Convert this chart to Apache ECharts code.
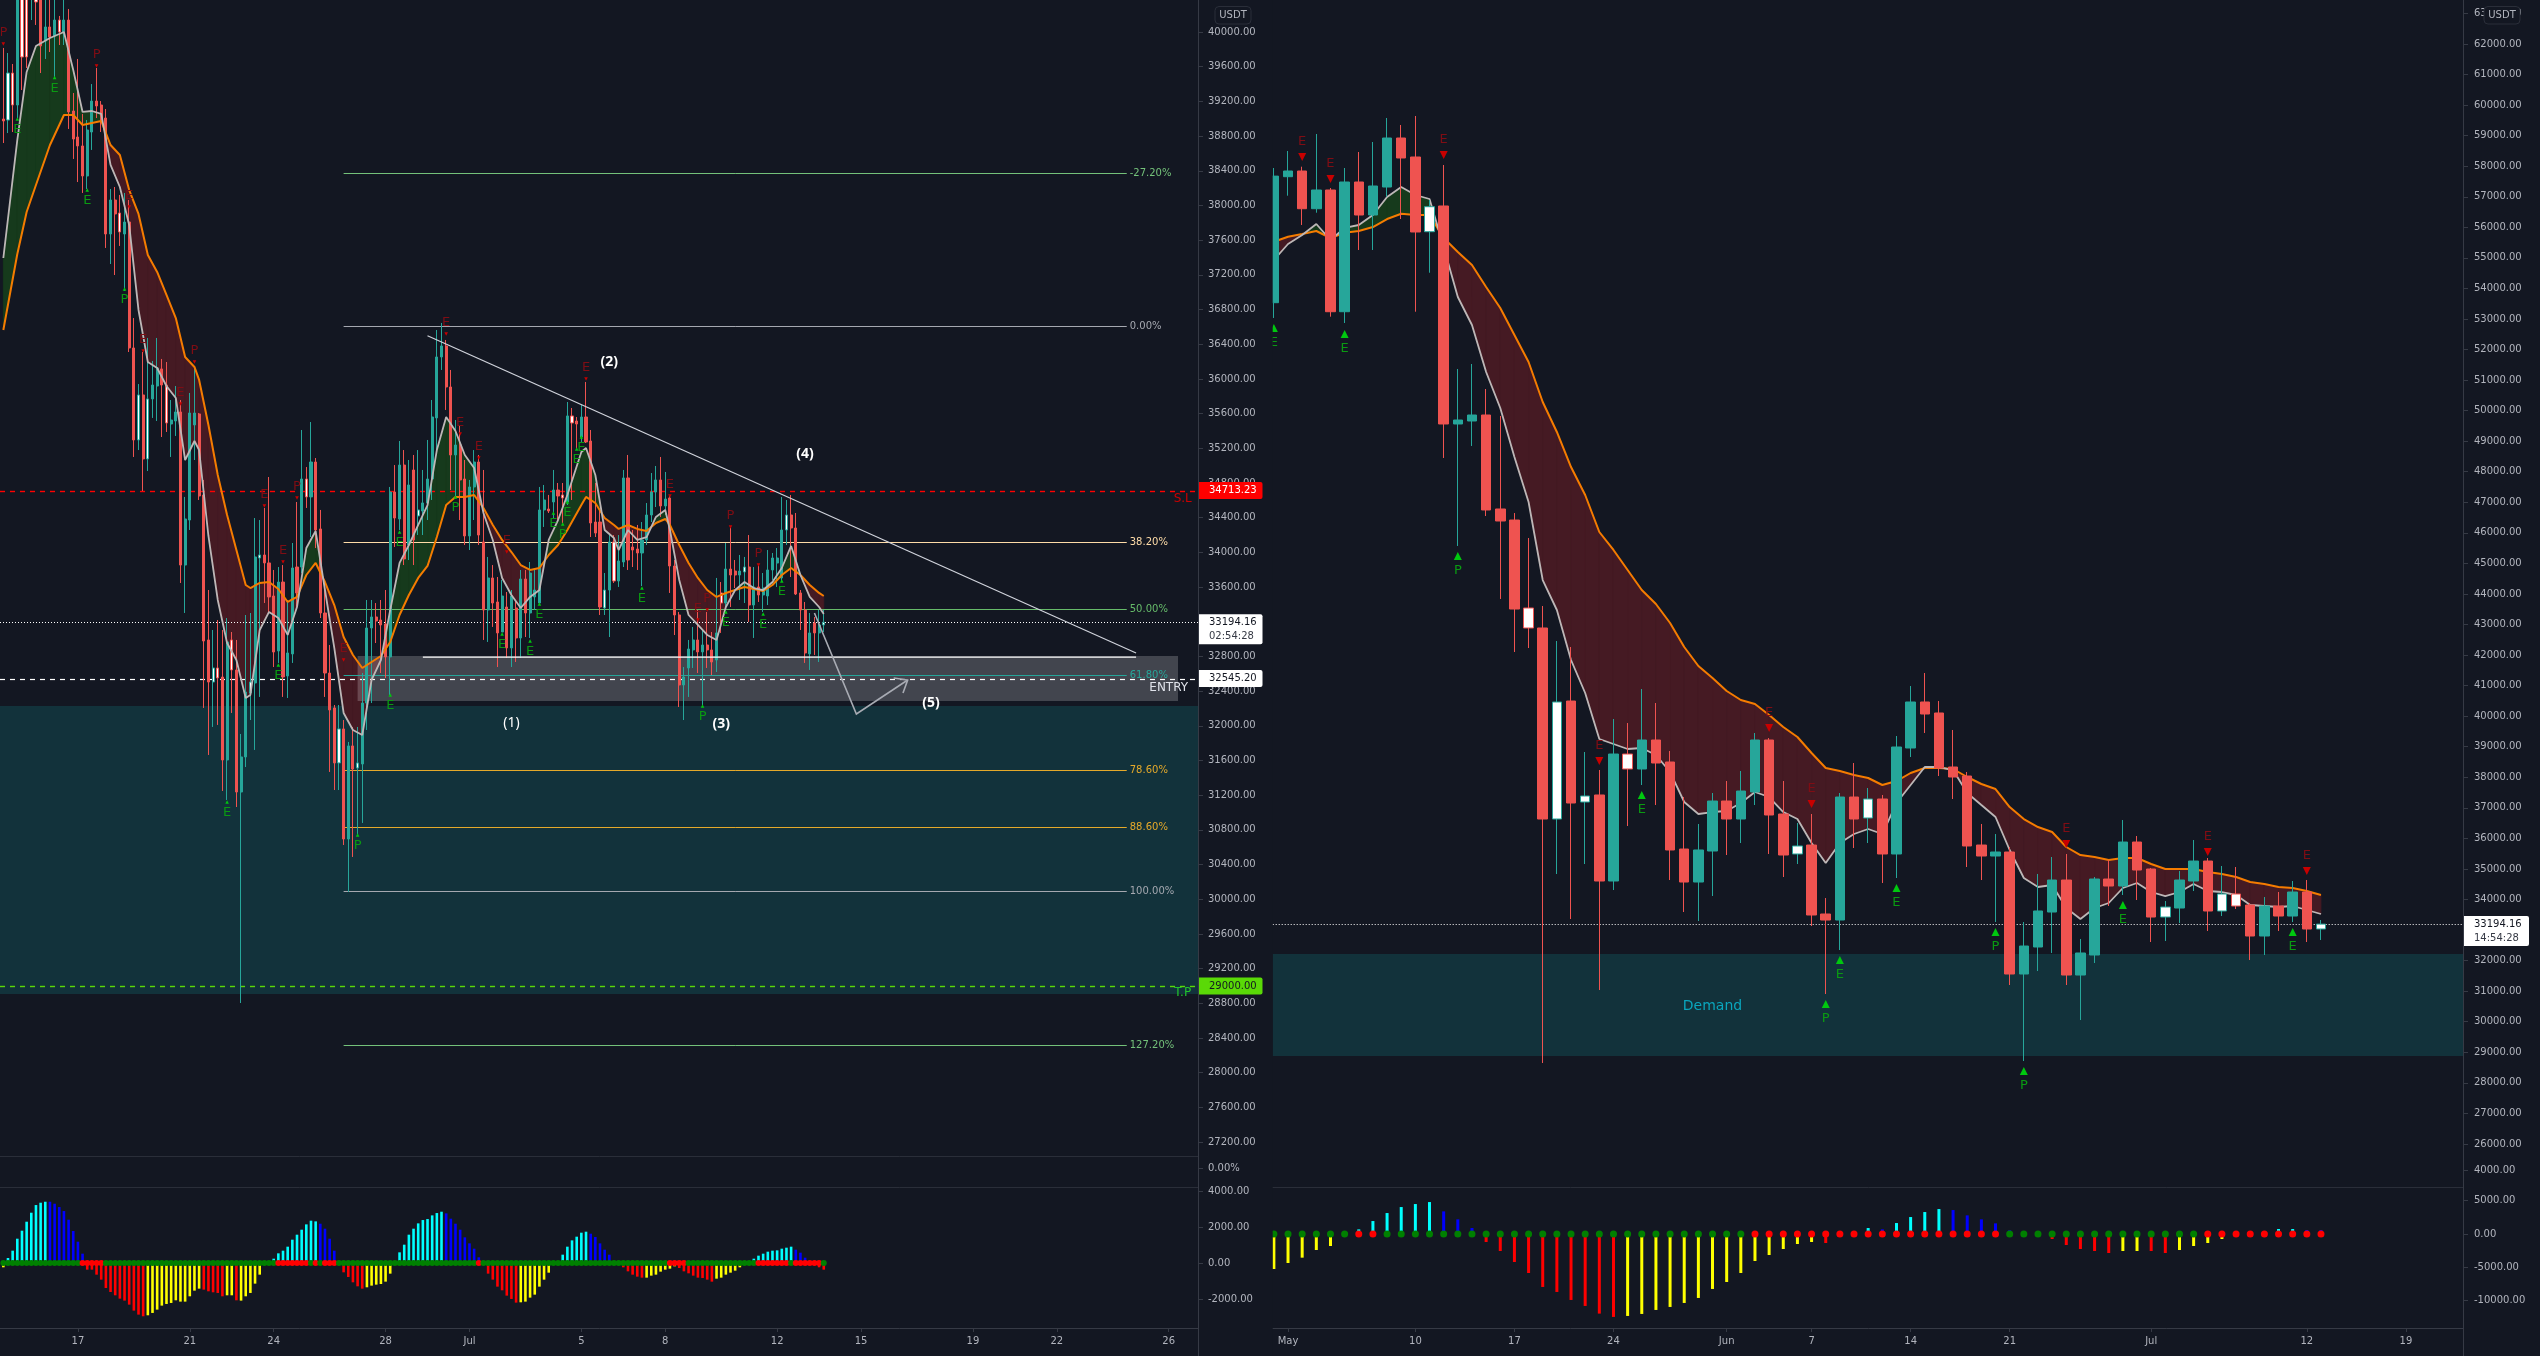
<!DOCTYPE html>
<html>
<head>
<meta charset="utf-8">
<title>BTCUSDT</title>
<script src="https://cdn.jsdelivr.net/npm/echarts@6/dist/echarts.min.js"></script>
<style>
  html, body { margin: 0; padding: 0; background: #131722; }
  #main { width: 2540px; height: 1356px; }
</style>
</head>
<body>
<div id="main"></div>
<script>
// ---- left chart, 4h bars. kinds: T teal, R red, t white body teal edge, r white body red edge
const leftKinds = 'RtrTrrTrRT' + 'RTrTRRRRTT' + 'RRRTRrTRRt' + 'RtTTRrTTRT' + 'TTRRRtrRTr' + 'RTTtTtRRRT' +
  'RTTRTrTRRR' + 'RRtRTRtTTT' + 'RRRTRTRTRt' + 'TTTTTRRTRR' + 'TTRRTRRTRT' + 'RTRTTTTRTR' +
  'rTrRTRRRRt' + 'TrTTRRRTTT' + 'TRTRRRTTTR' + 'TRRTrTRRTt' + 'RTRTTTTTtR' + 'RRRTRTt';
const leftBodyTop = [
  38997,39527,39527,40830,40715,40715,40600,40404,40484,40058,
  40058,40138,40138,40138,40138,39089,38789,38686,38870,39204,
  39204,39158,39008,38063,38063,37913,37809,37809,36357,35815,
  35815,35769,35930,36126,36115,35930,35526,35619,35619,34385,
  35607,35607,35596,34662,32990,32667,32667,32563,32967,32990,
  32644,31641,32390,32505,33947,33970,33970,33878,33497,33658,
  33658,32840,33820,33831,34846,34846,35042,35042,34270,33301,
  32609,32206,31964,31964,31768,31768,31572,32263,33128,33255,
  33255,33220,33174,34696,34696,35007,35007,34777,34950,34489,
  34570,34846,35561,36253,36380,36380,35907,35238,35238,34846,
  34754,35042,35042,34120,33705,33705,33428,33497,33370,33497,
  33359,33693,33693,33762,33566,34489,34604,34500,34719,34719,
  34662,35573,35573,35515,35561,35561,35284,34350,34350,33566,
  34120,34120,33901,34858,34858,34062,34039,34143,34431,34696,
  34835,34835,34615,34627,33843,33278,32563,32886,32990,32990,
  32932,32932,32875,33071,33532,33808,33808,33785,33785,33831,
  33831,33601,33601,33589,33797,33935,33935,34258,34431,34431,
  34281,33532,33336,33071,33186,33163,33194.16];
const leftBodyBottom = [
  38974,38985,39158,39158,39712,39712,40427,40346,39839,39896,
  39942,39954,40000,40000,39078,38766,38686,38340,38340,38847,
  39147,38985,37671,37671,37902,37694,37671,36357,35296,35296,
  35077,35077,35769,35918,35930,35492,35480,35515,33854,33854,
  34373,35469,34650,32978,32505,32505,32552,31606,31606,32644,
  31237,31237,31641,32379,32494,33935,33878,33486,32851,32863,
  32563,32575,32829,33532,33831,34639,34639,34258,33301,32609,
  32183,31572,31572,30695,30695,31502,31514,31560,32263,33128,
  33209,33163,32794,32794,34396,34385,33924,34085,34143,34420,
  34477,34570,34846,35550,36253,35907,35123,35123,34835,34189,
  34189,34754,34200,33336,33336,33416,33071,33082,32898,32898,
  33013,33013,33301,33301,33486,33416,34489,34477,34581,34650,
  34627,34581,35492,35480,35330,35273,34339,34223,33370,33359,
  33566,33670,33670,33889,33912,34027,33993,33993,34143,34431,
  34696,34535,34535,33843,33278,32471,32471,32667,32875,32852,
  32852,32875,32736,32759,33416,33416,33739,33739,33739,33774,
  33393,33393,33509,33509,33497,33797,33877,33705,34258,34281,
  33520,33336,32840,32829,33071,33071,33163];
const leftHigh = [
  39816,39758,39631,41061,40946,40830,40946,40600,40715,40484,
  40427,40427,40185,40427,40265,39297,39689,39055,38985,39400,
  39585,39204,39112,38190,38213,38121,38144,38063,36702,35941,
  36310,36472,36207,36472,36230,36195,35757,35918,35757,34639,
  35838,36126,35607,34835,33566,33105,33220,33105,33243,33082,
  32990,31906,33278,33301,34396,34373,34512,34869,33797,33831,
  33854,33451,34108,34581,35411,34984,35503,35088,34489,33647,
  32932,32240,32240,32067,31814,31987,31987,32609,33451,33451,
  33416,33451,33566,34754,35007,35284,35180,35065,35123,35180,
  34950,35296,35757,36564,36645,36449,36103,35526,35469,35065,
  34835,35180,35123,34950,33947,33854,33716,33682,33543,33566,
  33451,33797,33797,33889,33797,34754,34777,34662,34950,34800,
  34800,35734,35665,35561,35700,35965,35411,34800,34489,33762,
  34223,34200,34200,34950,35123,34258,34316,34350,34569,34915,
  34996,35100,34927,34662,33912,33313,32678,32990,33140,33336,
  33105,33313,33082,33705,33658,34108,34281,33912,33970,33947,
  34200,33831,33854,33762,34027,33993,34050,34639,34604,34662,
  34454,33566,33428,33301,33255,33336,33336];
const leftLow = [
  38720,38835,38847,39008,39331,39585,40138,40081,39527,39689,
  39769,39481,39850,39850,38882,38536,38270,38144,38190,38640,
  39008,38847,37510,37325,37198,37533,37014,36310,35100,35180,
  34708,34938,35550,35515,35330,35388,35100,35342,33647,33301,
  34258,35065,34604,32206,31664,31987,32010,31249,31145,32148,
  31064,28804,31525,32067,31722,32333,33416,33301,32678,32725,
  32333,32321,32725,33370,33762,34512,34177,34050,33243,32333,
  31468,31260,31260,30626,30084,30488,30741,30880,31952,32263,
  32955,32609,32552,32355,34062,34258,33854,33912,33854,34200,
  34200,34373,34604,35180,36103,35642,34719,34627,34373,34085,
  34027,34373,34085,32990,32967,33140,32678,33082,32782,32678,
  32736,32782,33024,33013,33336,33416,34293,34454,34396,34373,
  34339,34546,34604,35180,35273,35261,34177,34177,33278,33278,
  33024,33647,33601,33831,33797,33831,33797,33612,34085,34350,
  34523,34408,34431,33532,33047,32217,32067,32333,32667,32609,
  32240,32667,32586,32621,33071,33336,33370,33589,33451,33416,
  33197,33013,33428,33313,33393,33682,33601,33658,34085,33716,
  33508,33105,32725,32644,32817,32736,33082];

const leftLineIdx = [
  0,3,5,7,10,13,15,17,19,21, 23,25,27,29,31,33,35,37,39,41,
  42,44,46,48,50,52,53,55,57,59, 61,63,65,67,69,71,73,75,77,79,
  81,83,85,87,89,91,93,95,97,99, 101,103,105,107,109,111,113,115,117,119,
  121,124,125,127,129,131,132,134,136,138, 140,142,143,145,147,149,151,153,155,157,
  159,161,163,165,167,169,171,173,175,176];
const leftFast = [
  37394,38755,39539,39839,39931,40000,39562,39078,39089,39055,
  38467,38213,37775,36795,36195,36126,35918,35780,35065,35284,
  35180,34189,33451,32955,32759,32321,32356,33105,33313,33243,
  33048,33370,34050,34246,33566,32898,32148,31952,31894,32529,
  32759,33336,33878,34085,34316,34546,35180,35561,35400,35123,
  34973,34454,34143,33705,33509,33359,33486,33566,34143,34373,
  34662,35157,35204,34892,34258,34166,34027,34258,34143,34177,
  34408,34489,34258,33682,33278,33163,33048,32990,33370,33566,
  33658,33589,33566,33658,33820,34074,33739,33486,33370,33290];
const leftSlow = [
  36564,37440,37925,38236,38697,39043,39043,38928,38951,38974,
  38697,38582,38178,37902,37429,37233,36968,36702,36253,36138,
  35988,35469,34892,34431,34027,33624,33589,33647,33658,33578,
  33428,33486,33739,33878,33658,33393,33024,32817,32667,32736,
  32805,32967,33278,33509,33705,33843,34177,34546,34639,34639,
  34662,34512,34316,34143,34004,33854,33797,33820,33970,34085,
  34258,34546,34639,34569,34397,34316,34270,34316,34270,34247,
  34339,34385,34316,34085,33878,33705,33566,33486,33532,33566,
  33601,33578,33555,33624,33739,33820,33739,33624,33532,33497];

const leftUpIdx = [3,11,18,26,48,59,76,83,85,97,107,113,115,118,120,121,123,124,137,150,155,163,167];
const leftUpPrice = [38997,39475,38178,37037,31122,32702,30741,32356,34235,34639,33059,32978,33405,34454,34327,34581,35192,35330,33589,32229,33313,33290,33670];
const leftUpText = 'EEEPEEPEEPEEEEPEEEEPEEE';
const leftDownIdx = [0,20,27,30,38,41,56,60,63,73,95,98,102,108,125,143,149,151,156,162];
const leftDownPrice = [39862,39608,37982,36322,35711,36195,34535,33889,34627,32759,36518,35365,35088,34004,35999,34650,33220,33336,34293,33855];
const leftDownText = 'PPEEEPEEPEEEEEEEEPPP';

const leftOsc = [
  -240,278,685,1350,1795,2294,2794,3219,3349,3404,
  3404,3293,3108,2886,2405,1776,1184,518,-370,-370,
  -648,-925,-1388,-1610,-1795,-1980,-2090,-2313,-2646,-2868,
  -2960,-2905,-2775,-2590,-2368,-2276,-2220,-2072,-2146,-2146,
  -1850,-1536,-1425,-1480,-1573,-1628,-1665,-1850,-1795,-1795,
  -2072,-2090,-1850,-1665,-1147,-648,-74,60,240,537,
  685,907,1295,1573,1850,2146,2350,2313,2183,1906,
  1350,685,74,-518,-777,-1073,-1295,-1425,-1350,-1258,
  -1203,-1166,-1036,-592,30,592,1018,1573,1906,2202,
  2387,2442,2646,2775,2849,2757,2461,2183,1850,1425,
  1092,796,315,-90,-592,-925,-1314,-1517,-1813,-1998,
  -2202,-2183,-2146,-1924,-1758,-1314,-925,-537,-90,92,
  463,907,1258,1462,1684,1739,1628,1443,1092,740,
  463,92,-92,-240,-463,-648,-759,-814,-814,-703,
  -648,-481,-370,-315,-185,-278,-463,-574,-703,-814,
  -833,-925,-1036,-870,-814,-648,-537,-426,-240,-92,
  92,240,407,518,629,685,703,796,851,907,
  740,574,296,20,-92,-240,-370];
const leftOscRuns = [['Y',1],['C',9],['B',8],['R',13],['Y',12],['R',5],['Y',2],['R',1],['Y',6],['C',11],['B',4],['R',6],['Y',6],['C',11],['B',8],['R',8],['Y',8],['C',7],['B',6],['R',6],['Y',7],['R',8],['Y',7],['C',10],['B',4],['R',3]];
const leftRedDots = [17,18,19,20,21,59,60,61,62,63,64,65,67,69,70,71,102,143,144,145,146,162,163,164,165,166,167,168,170,171,172,173,174,175];

const leftCategoryCount = 257;
const leftTickIdx = [16,40,58,82,100,124,142,166,184,208,226,250];
const leftTickText = ['17','21','24','28','Jul','5','8','12','15','19','22','26'];
const leftPriceTicks = [40000,39600,39200,38800,38400,38000,37600,37200,36800,36400,36000,35600,35200,34800,34400,34000,33600,33200,32800,32400,32000,31600,31200,30800,30400,30000,29600,29200,28800,28400,28000,27600,27200];
const leftOscTicks = [4000,2000,0,-2000];

const fibPrices = [38377,36606,34119,33351,32583,31489,30838,30096,28325];
const fibText = ['-27.20%','0.00%','38.20%','50.00%','61.80%','78.60%','88.60%','100.00%','127.20%'];

const stopPrice = 34713.23;
const entryPrice = 32545.20;
const targetPrice = 29000;
const lastPrice = 33194.16;
const leftZone = [32228, 28908];
const grayBoxIdx = [76, 252];
const grayBox = [32805, 32286];
const topEdgeIdx = [90, 243];
const topEdgePrice = 32793;
const trendIdx = [91, 243];
const trendPrice = [36498, 32840];
const pathIdx = [174, 183, 194];
const pathPrice = [33301, 32136, 32528];
const headIdx = [191, 194, 193];
const headPrice = [32552, 32528, 32379];
const waveIdx = [109, 130, 154, 172, 199];
const wavePrice = [32033, 36195, 32021, 35134, 32263];
const waveText = ['(1)', '(2)', '(3)', '(4)', '(5)'];

// ---- right chart, daily bars from Apr 30
const rightKinds = 'TTRTRTRTTR' + 'RtRTTRRRrR' + 'tRtRTrTRRR' + 'TTRTTRRtRR' + 'TRtRTTRRRR' + 'RTRTTTRTTR' + 'TRRtTTRtrR' + 'TRTRt';
const rightBodyTop = [
  57676,57843,57843,57221,57221,57483,57483,57352,58923,58923,
  58301,56675,56698,49693,49857,49857,46781,46420,43540,42886,
  40464,40496,37387,37420,38761,38761,39220,39220,38500,35652,
  35620,37223,37223,37550,39220,39220,36798,35751,35783,33525,
  37354,37354,37289,37289,38991,40464,40464,40104,38336,38041,
  35783,35554,35554,32477,33624,34637,34637,32249,34670,34670,
  35881,35881,34998,33754,34637,35259,35259,34180,34180,33819,
  33787,33787,34245,34245,33194.16];
const rightBodyBottom = [
  53533,57657,56609,56609,53238,53238,56403,56403,57319,58269,
  55847,55856,49563,49563,49661,46748,46388,43507,42886,36634,
  36634,37158,37190,34605,34605,38271,38271,38467,35620,34572,
  34572,35587,36634,36634,37518,36765,35456,35489,33492,33328,
  33328,36634,36667,35489,35489,38958,40071,38303,38009,35751,
  35423,35423,31561,31561,32445,33590,31528,31528,32183,34441,
  34441,34965,33426,33426,33721,34605,33623,33623,33787,32805,
  32805,33459,33459,33034,33034];
const rightHigh = [
  57941,58498,57984,59054,57287,57941,58465,58792,59578,59349,
  59643,56894,58040,51363,51526,50708,49825,46649,45831,43606,
  42460,42264,38827,38238,39907,39776,40889,40431,38860,37354,
  36471,37485,37878,38206,39449,39285,37878,36503,36798,34048,
  37485,38467,37649,37420,39351,40987,41413,40496,39547,38173,
  36471,36143,35718,33263,34835,35391,35489,32707,34736,35293,
  36601,36078,35031,33950,34932,35947,35358,35096,35063,33885,
  34081,34245,34605,34638,33329];
const rightLow = [
  53032,57035,56076,56478,53075,52868,55258,55258,57002,56272,
  53238,54514,48450,45570,48843,46551,43835,42100,42231,28648,
  34834,33361,35161,31037,34310,36405,37747,37092,34637,33590,
  33296,34114,35456,35848,37092,35489,34736,35161,33132,30906,
  32346,35685,35848,34539,34703,38663,39449,38041,37289,35063,
  34637,33263,31201,28713,31659,32249,31201,30055,31921,33787,
  34147,33983,32608,32641,33230,34277,32969,33459,33689,32019,
  32183,32969,33263,32608,32674];

const rightFast = [
  54930,55454,55748,56108,55585,55978,56076,56403,56992,57320,
  57058,56927,55356,53719,52802,51264,50086,48482,47010,44456,
  43475,41838,40758,39253,39089,38926,38958,38729,38172,37191,
  36798,36863,36896,37158,37518,37354,36863,36634,35849,35194,
  35849,36143,36307,36143,37158,37747,38336,38336,38238,37485,
  37092,36700,35620,34703,34409,34474,33721,33361,33721,33885,
  34376,34540,34245,34114,34245,34507,34278,34245,34147,33819,
  33787,33754,33787,33656,33525];
const rightSlow = [
  55529,55693,55781,55879,55650,55824,55879,56010,56272,56446,
  56403,56403,55650,55192,54767,54047,53359,52476,51592,50283,
  49301,48155,47239,46028,45439,44784,44129,43671,43049,42264,
  41642,41249,40823,40529,40398,40038,39645,39318,38794,38303,
  38205,38074,37976,37747,37878,38140,38303,38303,38271,38009,
  37780,37616,37027,36634,36372,36209,35718,35456,35391,35293,
  35358,35358,35161,34998,34998,34998,34900,34834,34736,34572,
  34507,34409,34376,34278,34147];

const rightUpIdx = [0,5,13,26,39,40,44,51,53,60,72];
const rightUpPrice = [52705,52508,45242,37420,30579,32019,34376,32936,28386,33819,32936];
const rightUpText = 'EEPEPEEPPEE';
const rightDownIdx = [2,4,12,23,35,38,56,66,73];
const rightDownPrice = [58301,57581,58367,38532,39612,37125,35816,35554,34932];
const rightDownText = 'EEEEEEEEE';

const rightOsc = [
  -5250,-4350,-3550,-2400,-1800,-200,700,1950,3150,4050,
  4500,4800,3400,2200,900,-1200,-2550,-4200,-5850,-7950,
  -8700,-9900,-10800,-11950,-12450,-12300,-12000,-11400,-10950,-10350,
  -9600,-8250,-7200,-5850,-4050,-3150,-2250,-1500,-1200,-1350,
  -200,-100,900,700,1650,2550,3300,3750,3600,2800,
  2200,1600,550,-100,-100,-750,-1650,-2250,-2550,-2850,
  -2550,-2550,-2550,-2850,-2400,-1800,-1350,-750,-100,100,
  100,750,750,600,600];
const rightOscRuns = [['Y',6],['C',6],['B',3],['R',10],['Y',14],['R',3],['C',1],['B',1],['C',4],['B',5],['R',7],['Y',2],['R',2],['Y',5],['C',4],['B',2]];
const rightRedDots = [6,7,34,35,36,37,38,39,40,41,42,43,44,45,46,47,48,49,50,51,66,67,68,69,70,71,72,73,74];

const rightCategoryCount = 85;
const rightTickIdx = [1,10,17,24,32,38,45,52,62,73,80];
const rightTickText = ['May','10','17','24','Jun','7','14','21','Jul','12','19'];
const rightPriceTicks = [63000,62000,61000,60000,59000,58000,57000,56000,55000,54000,53000,52000,51000,50000,49000,48000,47000,46000,45000,44000,43000,42000,41000,40000,39000,38000,37000,36000,35000,34000,33000,32000,31000,30000,29000,28000,27000,26000];
const rightOscTicks = [5000,0,-5000,-10000];
const rightZone = [32216, 28877];
const demandIdx = 31;
const demandPrice = 30515;

// ---- layout and colours
const BG = '#131722', TEAL = '#26a69a', RED = '#ef5350', AXIS = '#b2b5be', LINE = '#363a45';
const FONT = 'DejaVu Sans';
const LEFT_AXIS_X = 1199, RIGHT_PANE_X = 1272.7, RIGHT_AXIS_X = 2464;
const OSC_COLOR = { C: '#00ffff', B: '#0000ff', R: '#ff0000', Y: '#ffff00' };
const fibColors = ['#74c27a','#a5a8b0','#ffdca8','#66bb6a','#26a69a','#e5a92a','#e5a92a','#a5a8b0','#74c27a'];

function candleItems(top, bottom, high, low, kinds) {
  return top.map(function (t, i) {
    const k = kinds[i];
    const up = k === 'T' || k === 't';
    const item = { value: [up ? bottom[i] : t, up ? t : bottom[i], low[i], high[i]] };
    if (k === 't' || k === 'r') {
      const edge = up ? TEAL : RED;
      item.itemStyle = { color: '#fff', color0: '#fff', borderColor: edge, borderColor0: edge };
    }
    return item;
  });
}

function expandRuns(runs) {
  const out = [];
  runs.forEach(function (r) { for (let i = 0; i < r[1]; i++) out.push(r[0]); });
  return out;
}

function custom(grid, rows, z, render, clip) {
  return { type: 'custom', xAxisIndex: grid, yAxisIndex: grid, data: rows, z: z, silent: true, clip: !!clip, renderItem: render };
}

function yOf(api, price) { return api.coord([0, price])[1]; }

// zone rectangle across a whole pane
function zoneSeries(grid, zone, x0, x1, fill, z) {
  return custom(grid, [[0, zone[0]]], z, function (params, api) {
    const a = yOf(api, zone[0]), b = yOf(api, zone[1]);
    return { type: 'rect', shape: { x: x0, y: a, width: x1 - x0, height: b - a }, style: { fill: fill } };
  });
}

// horizontal price line across a pane
function levelSeries(grid, price, x0, x1, color, dash, z, width) {
  return custom(grid, [[0, price]], z, function (params, api) {
    const y = Math.round(yOf(api, price)) + 0.5;
    return { type: 'line', shape: { x1: x0, y1: y, x2: x1, y2: y }, style: { stroke: color, lineWidth: width || 1, lineDash: dash } };
  });
}

// filled ribbon between the fast and the slow line, stroked so the segments leave no seams
function bandSeries(grid, idx, fast, slow, z) {
  const GREEN_FILL = '#163a1c', RED_FILL = '#451a23';
  function piece(points, color) {
    return { type: 'polygon', shape: { points: points }, style: { fill: color, stroke: color, lineWidth: 0.8 } };
  }
  return custom(grid, idx.map(function (x, k) { return [x, fast[k]]; }), z, function (params, api) {
    const k = params.dataIndex;
    if (k >= idx.length - 1) return null;
    const f0 = api.coord([idx[k], fast[k]]), s0 = api.coord([idx[k], slow[k]]);
    const f1 = api.coord([idx[k + 1], fast[k + 1]]), s1 = api.coord([idx[k + 1], slow[k + 1]]);
    const d0 = fast[k] - slow[k], d1 = fast[k + 1] - slow[k + 1];
    if (d0 * d1 >= 0) return piece([f0, f1, s1, s0], (d0 + d1) >= 0 ? GREEN_FILL : RED_FILL);
    const t = d0 / (d0 - d1);
    const cross = [f0[0] + (f1[0] - f0[0]) * t, f0[1] + (f1[1] - f0[1]) * t];
    return { type: 'group', children: [
      piece([f0, cross, s0], d0 > 0 ? GREEN_FILL : RED_FILL),
      piece([cross, f1, s1], d1 > 0 ? GREEN_FILL : RED_FILL)
    ] };
  });
}

function lineSeries(grid, idx, values, color, width, z) {
  return {
    type: 'line', xAxisIndex: grid, yAxisIndex: grid, z: z, silent: true, symbol: 'none',
    data: idx.map(function (x, k) { return [x, values[k]]; }),
    lineStyle: { color: color, width: width }
  };
}

// E / P signal: triangle at the price and a letter away from the bar
function signalSeries(grid, idx, prices, letters, up, size, gap, z) {
  const fill = up ? '#00c80f' : '#c80000';
  const ink = up ? '#0a9a12' : '#7f0d14';
  return custom(grid, idx.map(function (x, k) { return [x, prices[k]]; }), z, function (params, api) {
    const k = params.dataIndex;
    const p = api.coord([idx[k], prices[k]]);
    const s = up ? 1 : -1;
    const h = size / 2;
    return { type: 'group', children: [
      { type: 'polygon', shape: { points: [[p[0], p[1] - s * h], [p[0] - h, p[1] + s * h], [p[0] + h, p[1] + s * h]] }, style: { fill: fill } },
      { type: 'text', style: { text: letters[k], x: p[0], y: p[1] + s * gap, fill: ink, font: '13px "' + FONT + '"', align: 'center', verticalAlign: 'middle' } }
    ] };
  }, true);
}

// coloured price tag that sits on the price axis
function tagSeries(grid, price, text, sub, x, w, fill, ink, z) {
  return custom(grid, [[0, price]], z, function (params, api) {
    const y = yOf(api, price);
    const kids = [];
    if (sub) {
      kids.push({ type: 'rect', shape: { x: x, y: y - 8, width: w, height: 30, r: [0, 2, 2, 0] }, style: { fill: fill } });
      kids.push({ type: 'text', style: { text: sub, x: x + 10, y: y + 14, fill: '#363a45', font: '10px "' + FONT + '"', verticalAlign: 'middle' } });
    } else {
      kids.push({ type: 'rect', shape: { x: x, y: y - 8.5, width: w, height: 17, r: [0, 2, 2, 0] }, style: { fill: fill } });
    }
    kids.push({ type: 'text', style: { text: text, x: x + 10, y: y, fill: ink, font: '10px "' + FONT + '"', verticalAlign: 'middle' } });
    return { type: 'group', children: kids };
  });
}

function textSeries(grid, idx, price, text, color, font, z, align) {
  return custom(grid, [[idx, price]], z, function (params, api) {
    const p = api.coord([idx, price]);
    return { type: 'text', style: { text: text, x: p[0], y: p[1], fill: color, font: font, align: align || 'center', verticalAlign: 'middle' } };
  });
}

function oscBars(grid, values, runs, width) {
  const colors = expandRuns(runs);
  return {
    type: 'bar', xAxisIndex: grid, yAxisIndex: grid, z: 3, silent: true, barWidth: width,
    data: values.map(function (v, i) { return { value: v, itemStyle: { color: OSC_COLOR[colors[i]] } }; })
  };
}

function oscDots(grid, count, redDots, size) {
  const rows = [];
  for (let i = 0; i < count; i++) rows.push([i, 0, redDots.indexOf(i) >= 0 ? 1 : 0]);
  return {
    type: 'scatter', xAxisIndex: grid, yAxisIndex: grid, z: 4, silent: true, symbolSize: size,
    data: rows.map(function (r) { return { value: [r[0], r[1]], itemStyle: { color: r[2] ? '#ff0000' : '#008000', opacity: 1 } }; })
  };
}

function categories(n) {
  const out = [];
  for (let i = 0; i < n; i++) out.push(String(i));
  return out;
}

function timeAxis(grid, n, tickIdx, tickText) {
  return {
    type: 'category', gridIndex: grid, data: categories(n), boundaryGap: true,
    axisLine: { show: false, onZero: false }, splitLine: { show: false },
    axisTick: { show: tickIdx !== null, length: 4, alignWithLabel: true, lineStyle: { color: LINE }, interval: function (i) { return !!tickIdx && tickIdx.indexOf(i) >= 0; } },
    axisLabel: {
      show: tickIdx !== null, color: AXIS, fontFamily: FONT, fontSize: 10, margin: 8,
      interval: function (i) { return !!tickIdx && tickIdx.indexOf(i) >= 0; },
      formatter: function (v, i) { return tickText ? tickText[tickIdx.indexOf(i)] : ''; }
    }
  };
}

function priceAxis(grid, min, max, ticks, offset, margin) {
  return {
    type: 'value', gridIndex: grid, position: 'right', min: min, max: max, offset: offset, scale: true,
    splitLine: { show: false }, axisLine: { show: false },
    axisTick: { show: true, length: 4, customValues: ticks, lineStyle: { color: LINE } },
    axisLabel: { color: AXIS, fontFamily: FONT, fontSize: 10, margin: margin, customValues: ticks, formatter: function (v) { return Number(v).toFixed(2); } }
  };
}

const RIGHT_GRID_X = 1266.8, RIGHT_GRID_W = 1202.75;
const RIGHT_OFFSET = RIGHT_AXIS_X - (RIGHT_GRID_X + RIGHT_GRID_W);
const FAST_COLOR = '#bdb7b7', SLOW_COLOR = '#f57c00';

const series = [
  // left main pane
  zoneSeries(0, leftZone, 0, LEFT_AXIS_X, '#12323b', 1),
  bandSeries(0, leftLineIdx, leftFast, leftSlow, 2),
  custom(0, [[grayBoxIdx[0], grayBox[0]]], 3, function (params, api) {
    const a = api.coord([grayBoxIdx[0], grayBox[0]]), b = api.coord([grayBoxIdx[1], grayBox[1]]);
    return { type: 'rect', shape: { x: a[0], y: a[1], width: b[0] - a[0], height: b[1] - a[1] }, style: { fill: 'rgba(255,255,255,0.2)' } };
  }),
  custom(0, fibPrices.map(function (p, i) { return [i, p]; }), 4, function (params, api) {
    const k = params.dataIndex;
    const a = api.coord([73, fibPrices[k]]), b = api.coord([241, fibPrices[k]]);
    const y = Math.round(a[1]) + 0.5;
    return { type: 'group', children: [
      { type: 'line', shape: { x1: a[0], y1: y, x2: b[0], y2: y }, style: { stroke: fibColors[k], lineWidth: 1 } },
      { type: 'text', style: { text: fibText[k], x: b[0] + 3, y: y, fill: fibColors[k], font: '10px "' + FONT + '"', verticalAlign: 'middle' } }
    ] };
  }),
  levelSeries(0, stopPrice, 0, LEFT_AXIS_X, '#ff0000', [5, 5], 4, 1.4),
  levelSeries(0, entryPrice, 0, LEFT_AXIS_X, '#ffffff', [5, 5], 4, 1.2),
  levelSeries(0, targetPrice, 0, LEFT_AXIS_X, '#5ad907', [5, 5], 4, 1.4),
  levelSeries(0, lastPrice, 0, LEFT_AXIS_X, '#ffffff', [1, 2], 4),
  {
    type: 'candlestick', xAxisIndex: 0, yAxisIndex: 0, z: 5, silent: true, barWidth: 2.6,
    data: candleItems(leftBodyTop, leftBodyBottom, leftHigh, leftLow, leftKinds),
    itemStyle: { color: TEAL, color0: RED, borderColor: TEAL, borderColor0: RED, borderWidth: 1 }
  },
  lineSeries(0, leftLineIdx, leftSlow, SLOW_COLOR, 2, 6),
  lineSeries(0, leftLineIdx, leftFast, FAST_COLOR, 1.8, 6),
  // drawn trend lines and path
  custom(0, [[trendIdx[0], trendPrice[0]]], 7, function (params, api) {
    const a = api.coord([trendIdx[0], trendPrice[0]]), b = api.coord([trendIdx[1], trendPrice[1]]);
    const c = api.coord([topEdgeIdx[0], topEdgePrice]), d = api.coord([topEdgeIdx[1], topEdgePrice]);
    return { type: 'group', children: [
      { type: 'line', shape: { x1: a[0], y1: a[1], x2: b[0], y2: b[1] }, style: { stroke: '#d1d4dc', lineWidth: 1.2 } },
      { type: 'line', shape: { x1: c[0], y1: c[1], x2: d[0], y2: d[1] }, style: { stroke: '#ffffff', lineWidth: 1.2 } }
    ] };
  }),
  custom(0, [[pathIdx[0], pathPrice[0]]], 7, function (params, api) {
    const pts = pathIdx.map(function (x, k) { return api.coord([x, pathPrice[k]]); });
    const head = headIdx.map(function (x, k) { return api.coord([x, headPrice[k]]); });
    return { type: 'group', children: [
      { type: 'polyline', shape: { points: pts }, style: { stroke: '#a8abb3', lineWidth: 1.6, fill: 'none' } },
      { type: 'polyline', shape: { points: head }, style: { stroke: '#a8abb3', lineWidth: 1.6, fill: 'none' } }
    ] };
  }),
  signalSeries(0, leftUpIdx, leftUpPrice, leftUpText, true, 3.6, 11, 8),
  signalSeries(0, leftDownIdx, leftDownPrice, leftDownText, false, 3.6, 11, 8),
  textSeries(0, waveIdx[0], wavePrice[0], waveText[0], '#ffffff', '14px "Noto Sans"', 9),
  textSeries(0, waveIdx[1], wavePrice[1], waveText[1], '#ffffff', 'bold 14px "Noto Sans"', 9),
  textSeries(0, waveIdx[2], wavePrice[2], waveText[2], '#ffffff', 'bold 14px "Noto Sans"', 9),
  textSeries(0, waveIdx[3], wavePrice[3], waveText[3], '#ffffff', 'bold 14px "Noto Sans"', 9),
  textSeries(0, waveIdx[4], wavePrice[4], waveText[4], '#ffffff', 'bold 14px "Noto Sans"', 9),
  textSeries(0, 250, 32436, 'ENTRY', '#e0e3eb', '12px "' + FONT + '"', 9),
  textSeries(0, 253, 34616, 'S.L', '#cc0000', '12px "' + FONT + '"', 9),
  textSeries(0, 253, 28920, 'T.P', '#22c32c', '12px "' + FONT + '"', 9),
  tagSeries(0, stopPrice, '34713.23', null, LEFT_AXIS_X, 63.5, '#ff0000', '#ffffff', 20),
  tagSeries(0, lastPrice, '33194.16', '02:54:28', LEFT_AXIS_X, 63.5, '#ffffff', '#131722', 20),
  tagSeries(0, entryPrice, '32545.20', null, LEFT_AXIS_X, 63.5, '#ffffff', '#131722', 20),
  tagSeries(0, targetPrice, '29000.00', null, LEFT_AXIS_X, 63.5, '#5ad907', '#131722', 20),

  // left oscillator
  oscBars(1, leftOsc, leftOscRuns, 2.6),
  oscDots(1, leftOsc.length, leftRedDots, 6),

  // right main pane
  zoneSeries(2, rightZone, RIGHT_PANE_X, RIGHT_AXIS_X, '#12323b', 1),
  bandSeries(2, rightFast.map(function (v, i) { return i; }), rightFast, rightSlow, 2),
  levelSeries(2, lastPrice, RIGHT_PANE_X, RIGHT_AXIS_X, '#ffffff', [1, 2], 3),
  lineSeries(2, rightFast.map(function (v, i) { return i; }), rightSlow, SLOW_COLOR, 2, 4),
  lineSeries(2, rightFast.map(function (v, i) { return i; }), rightFast, FAST_COLOR, 1.8, 4),
  {
    type: 'candlestick', xAxisIndex: 2, yAxisIndex: 2, z: 5, silent: true, barWidth: 10,
    data: candleItems(rightBodyTop, rightBodyBottom, rightHigh, rightLow, rightKinds),
    itemStyle: { color: TEAL, color0: RED, borderColor: TEAL, borderColor0: RED, borderWidth: 1 }
  },
  signalSeries(2, rightUpIdx, rightUpPrice, rightUpText, true, 8, 15, 8),
  signalSeries(2, rightDownIdx, rightDownPrice, rightDownText, false, 8, 15, 8),
  textSeries(2, demandIdx, demandPrice, 'Demand', '#0aa6bd', '14px "' + FONT + '"', 9),
  tagSeries(2, lastPrice, '33194.16', '14:54:28', RIGHT_AXIS_X, 65, '#ffffff', '#131722', 20),

  // right oscillator
  oscBars(3, rightOsc, rightOscRuns, 3),
  oscDots(3, rightOsc.length, rightRedDots, 7)
];

// pane frames, axis lines and the small axis extras
function hline(x1, x2, y, color) {
  return { type: 'line', z: 50, silent: true, shape: { x1: x1, y1: y, x2: x2, y2: y }, style: { stroke: color, lineWidth: 1 } };
}
function vline(x, y1, y2, color) {
  return { type: 'line', z: 50, silent: true, shape: { x1: x, y1: y1, x2: x, y2: y2 }, style: { stroke: color, lineWidth: 1 } };
}
function badge(x) {
  return [
    { type: 'rect', z: 60, silent: true, shape: { x: x, y: 6.5, width: 36, height: 17.5, r: 4 }, style: { fill: BG, stroke: '#2a2e39', lineWidth: 1 } },
    { type: 'text', z: 61, silent: true, style: { text: 'USDT', x: x + 18, y: 15.5, fill: AXIS, font: '10px "' + FONT + '"', align: 'center', verticalAlign: 'middle' } }
  ];
}
const graphics = [
  { type: 'rect', z: 40, silent: true, shape: { x: 1264, y: 0, width: RIGHT_PANE_X - 1264, height: 1356 }, style: { fill: BG } },
  hline(0, LEFT_AXIS_X, 1156.5, '#2a2e39'),
  hline(0, LEFT_AXIS_X, 1187.5, '#2a2e39'),
  hline(0, LEFT_AXIS_X, 1328.5, LINE),
  hline(RIGHT_PANE_X, RIGHT_AXIS_X, 1187.5, '#2a2e39'),
  hline(RIGHT_PANE_X, RIGHT_AXIS_X, 1328.5, LINE),
  vline(LEFT_AXIS_X - 0.5, 0, 1356, LINE),
  vline(RIGHT_AXIS_X - 0.5, 0, 1356, LINE),
  hline(LEFT_AXIS_X, LEFT_AXIS_X + 4, 1168.5, LINE),
  hline(RIGHT_AXIS_X, RIGHT_AXIS_X + 4, 1170.5, LINE),
  { type: 'text', z: 61, silent: true, style: { text: '0.00%', x: 1208, y: 1168.5, fill: AXIS, font: '10px "' + FONT + '"', verticalAlign: 'middle' } },
  { type: 'text', z: 61, silent: true, style: { text: '4000.00', x: 2474, y: 1170.5, fill: AXIS, font: '10px "' + FONT + '"', verticalAlign: 'middle' } }
].concat(badge(1215), badge(2484));

const myChart = echarts.init(document.getElementById('main'), null, { renderer: 'canvas', width: 2540, height: 1356 });
myChart.setOption({
  animation: false,
  backgroundColor: BG,
  tooltip: { show: false },
  grid: [
    { left: 1, top: 0, width: 1198, height: 1156 },
    { left: 1, top: 1187, width: 1198, height: 141 },
    { left: RIGHT_GRID_X, top: 0, width: RIGHT_GRID_W, height: 1187 },
    { left: RIGHT_GRID_X, top: 1187, width: RIGHT_GRID_W, height: 141 }
  ],
  xAxis: [
    timeAxis(0, leftCategoryCount, null, null),
    timeAxis(1, leftCategoryCount, leftTickIdx, leftTickText),
    timeAxis(2, rightCategoryCount, null, null),
    timeAxis(3, rightCategoryCount, rightTickIdx, rightTickText)
  ],
  yAxis: [
    priceAxis(0, 27040, 40369, leftPriceTicks, 0, 9),
    priceAxis(1, -3611, 4222, leftOscTicks, 0, 9),
    priceAxis(2, 24590, 63440, rightPriceTicks, RIGHT_OFFSET, 10),
    priceAxis(3, -14110, 7060, rightOscTicks, RIGHT_OFFSET, 10)
  ],
  series: series,
  graphic: { elements: graphics }
});
</script>
</body>
</html>
